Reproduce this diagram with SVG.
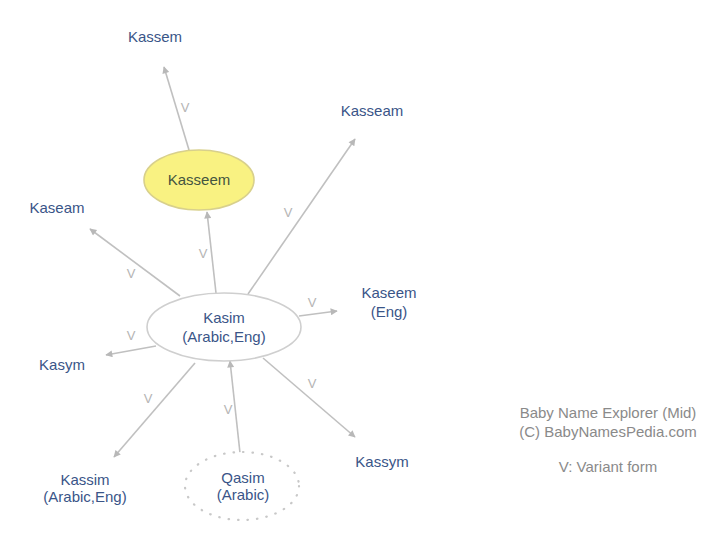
<svg xmlns="http://www.w3.org/2000/svg" width="720" height="533" viewBox="0 0 720 533">
<style>
text{font-family:"Liberation Sans",Arial,sans-serif;font-size:15px;text-anchor:middle}
.n{fill:#3a5588}
.v{fill:#b4b4b4;font-size:13px}
.lg{fill:#8a8a8a}
.e{stroke:#c0c0c0;stroke-width:1.6;fill:none;marker-end:url(#ah)}
</style>
<defs>
<marker id="ah" viewBox="0 0 10 10" refX="9" refY="5" markerWidth="9" markerHeight="7" markerUnits="userSpaceOnUse" orient="auto">
<path d="M0,0L10,5L0,10z" fill="#b8b8b8"/>
</marker>
</defs>
<rect width="720" height="533" fill="#ffffff"/>
<g id="connectors">
<line class="e" x1="189" y1="150" x2="164" y2="67"/>
<line class="e" x1="216" y1="293" x2="207" y2="212"/>
<line class="e" x1="248" y1="294" x2="355" y2="139"/>
<line class="e" x1="180" y1="296" x2="90" y2="229"/>
<line class="e" x1="299" y1="316" x2="337" y2="311"/>
<line class="e" x1="156" y1="346" x2="106" y2="355"/>
<line class="e" x1="195" y1="363" x2="114" y2="457"/>
<line class="e" x1="240" y1="453" x2="230" y2="361"/>
<line class="e" x1="263" y1="358" x2="355" y2="437"/>
<text class="v" x="185" y="112">V</text>
<text class="v" x="203" y="258">V</text>
<text class="v" x="288" y="217">V</text>
<text class="v" x="131" y="278">V</text>
<text class="v" x="312" y="307">V</text>
<text class="v" x="131" y="340">V</text>
<text class="v" x="148" y="403">V</text>
<text class="v" x="228" y="414">V</text>
<text class="v" x="312" y="388">V</text>
</g>
<g id="kasim">
<ellipse cx="224" cy="327" rx="77" ry="34" fill="#ffffff" stroke="#cfcfcf" stroke-width="1.6"/>
<text class="n" x="224" y="323">Kasim</text>
<text class="n" x="224" y="342">(Arabic,Eng)</text>
</g>
<g id="kasseem">
<ellipse cx="199" cy="180" rx="55" ry="30" fill="#f9f282" stroke="#d8d08c" stroke-width="1.6"/>
<text x="199" y="185" fill="#445540">Kasseem</text>
</g>
<g id="qasim">
<ellipse cx="242" cy="486" rx="57" ry="34" fill="#ffffff" stroke="#c8c8c8" stroke-width="2.2" stroke-dasharray="0.5 9" stroke-linecap="round"/>
<text class="n" x="243" y="483">Qasim</text>
<text class="n" x="243" y="500">(Arabic)</text>
</g>
<g id="kassem"><text class="n" x="155" y="42">Kassem</text></g>
<g id="kasseam"><text class="n" x="372" y="116">Kasseam</text></g>
<g id="kaseam"><text class="n" x="57" y="213">Kaseam</text></g>
<g id="kaseem"><text class="n" x="389" y="298">Kaseem</text><text class="n" x="389" y="317">(Eng)</text></g>
<g id="kasym"><text class="n" x="62" y="370">Kasym</text></g>
<g id="kassim"><text class="n" x="85" y="485">Kassim</text><text class="n" x="85" y="502">(Arabic,Eng)</text></g>
<g id="kassym"><text class="n" x="382" y="467">Kassym</text></g>
<g id="legend">
<text class="lg" x="608" y="418">Baby Name Explorer (Mid)</text>
<text class="lg" x="608" y="437">(C) BabyNamesPedia.com</text>
<text class="lg" x="608" y="472">V: Variant form</text>
</g>
</svg>
